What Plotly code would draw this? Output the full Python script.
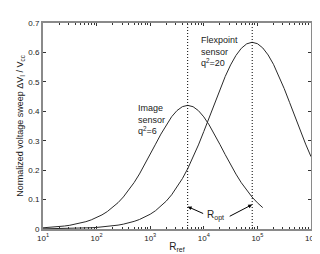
import numpy as np
import plotly.graph_objects as go

# log10(R_ref) sample positions
log_r_image = [1.0,1.1,1.2,1.3,1.4,1.5,1.6,1.7,1.8,1.9,2.0,2.1,2.2,2.3,2.4,2.5,2.6,2.7,2.8,2.9,
               3.0,3.1,3.2,3.3,3.4,3.5,3.6,3.7,3.8,3.9,4.0,4.1,4.2,4.3,4.4,4.5,4.6,4.7,4.8,4.9,5.0,5.1]
image_sensor = [0.00406,0.00510,0.00641,0.00805,0.01011,0.01268,0.01589,0.01989,0.02486,0.03101,
                0.03860,0.04790,0.05927,0.07300,0.08945,0.10898,0.13169,0.15780,0.18711,0.21920,
                0.25331,0.28822,0.32247,0.35419,0.38146,0.40245,0.41572,0.42018,0.41556,0.40213,
                0.38096,0.35358,0.32181,0.28754,0.25262,0.21854,0.18648,0.15726,0.13118,0.10852,
                0.08910,0.07269]

log_r_flex = [1.0,1.1,1.2,1.3,1.4,1.5,1.6,1.7,1.8,1.9,2.0,2.1,2.2,2.3,2.4,2.5,2.6,2.7,2.8,2.9,
              3.0,3.1,3.2,3.3,3.4,3.5,3.6,3.7,3.8,3.9,4.0,4.1,4.2,4.3,4.4,4.5,4.6,4.7,4.8,4.9,
              5.0,5.1,5.2,5.3,5.4,5.5,5.6,5.7,5.8,5.9,6.0]
flexpoint_sensor = [0.000531,0.000668,0.000841,0.001058,0.001332,0.001677,0.002110,0.002654,0.003338,0.004199,
                    0.005281,0.006638,0.008340,0.010475,0.013149,0.016493,0.020664,0.025858,0.032308,0.040305,
                    0.050165,0.062258,0.076980,0.094812,0.11618,0.14148,0.17104,0.20505,0.24347,0.28571,
                    0.33142,0.37913,0.42737,0.47448,0.51849,0.55754,0.58983,0.61404,0.62914,0.63449,
                    0.62979,0.61528,0.59147,0.55961,0.52097,0.47720,0.43027,0.38199,0.33421,0.28847,
                    0.24586]

r_opt = [5000, 80000]
x_tick_vals = [10, 100, 1000, 10000, 100000, 1000000]
x_tick_text = ["10<sup>1</sup>", "10<sup>2</sup>", "10<sup>3</sup>", "10<sup>4</sup>", "10<sup>5</sup>", "10<sup>6</sup>"]
y_tick_vals = [0, 0.1, 0.2, 0.3, 0.4, 0.5, 0.6, 0.7]
y_tick_text = ["0", "0.1", "0.2", "0.3", "0.4", "0.5", "0.6", "0.7"]

FONT = "Liberation Sans, Arial, sans-serif"
curve_col = "#2a2a2a"
text_col = "#222222"

fig = go.Figure()
fig.add_trace(go.Scatter(x=[10 ** v for v in log_r_image], y=image_sensor, mode="lines",
                         line=dict(color=curve_col, width=1), showlegend=False))
fig.add_trace(go.Scatter(x=[10 ** v for v in log_r_flex], y=flexpoint_sensor, mode="lines",
                         line=dict(color=curve_col, width=1), showlegend=False))
for r in r_opt:
    fig.add_trace(go.Scatter(x=[r, r], y=[0, 0.7], mode="lines",
                             line=dict(color="black", width=1, dash="1px,2px"), showlegend=False))

minor_vals = [m * 10 ** e for e in range(1, 6) for m in range(2, 10)]

fig.update_layout(
    width=320, height=254,
    margin=dict(l=35, r=16, t=11, b=32),
    paper_bgcolor="white", plot_bgcolor="white",
    font=dict(family=FONT, size=8, color=text_col),
    xaxis=dict(type="log", range=[1, 6], tickvals=x_tick_vals, ticktext=x_tick_text,
               ticks="inside", ticklen=3, tickcolor="#333333", mirror="allticks",
               showline=True, linecolor="#8a8a8a", linewidth=2, showgrid=False, zeroline=False,
               minor=dict(tickvals=minor_vals, ticks="inside", ticklen=2, tickcolor="#333333", showgrid=False),
               title=dict(text="R<sub>ref</sub>", font=dict(size=10), standoff=1),
               tickfont=dict(size=8)),
    yaxis=dict(range=[0, 0.7], tickvals=y_tick_vals, ticktext=y_tick_text,
               ticks="inside", ticklen=3, tickcolor="#333333", mirror="allticks",
               showline=True, linecolor="#8a8a8a", linewidth=2, showgrid=False, zeroline=False,
               title=dict(text="Normalized voltage sweep \u0394V<sub>I</sub> / V<sub>cc</sub>",
                          font=dict(size=9), standoff=3),
               tickfont=dict(size=8)),
)

fig.add_annotation(x=np.log10(540), y=0.435, xref="x", yref="y", xanchor="left", yanchor="top",
                   text="Image<br>sensor<br>q<sup>2</sup>=6", showarrow=False, align="left",
                   font=dict(size=9, family=FONT, color=text_col))
fig.add_annotation(x=np.log10(8300), y=0.667, xref="x", yref="y", xanchor="left", yanchor="top",
                   text="Flexpoint<br>sensor<br>q<sup>2</sup>=20", showarrow=False, align="left",
                   font=dict(size=9, family=FONT, color=text_col))
fig.add_annotation(x=np.log10(16500), y=0.046, xref="x", yref="y",
                   text="R<sub>opt</sub>", showarrow=False,
                   font=dict(size=10, family=FONT, color=text_col))
fig.add_annotation(x=np.log10(r_opt[0]), y=0.076, xref="x", yref="y", text=" ",
                   showarrow=True, arrowhead=2, arrowsize=0.8, arrowwidth=1, arrowcolor="black",
                   ax=18, ay=8, standoff=0)
fig.add_annotation(x=np.log10(r_opt[1]), y=0.083, xref="x", yref="y", text=" ",
                   showarrow=True, arrowhead=2, arrowsize=0.8, arrowwidth=1, arrowcolor="black",
                   ax=-25, ay=13, standoff=0)

fig.write_html("out.html")
